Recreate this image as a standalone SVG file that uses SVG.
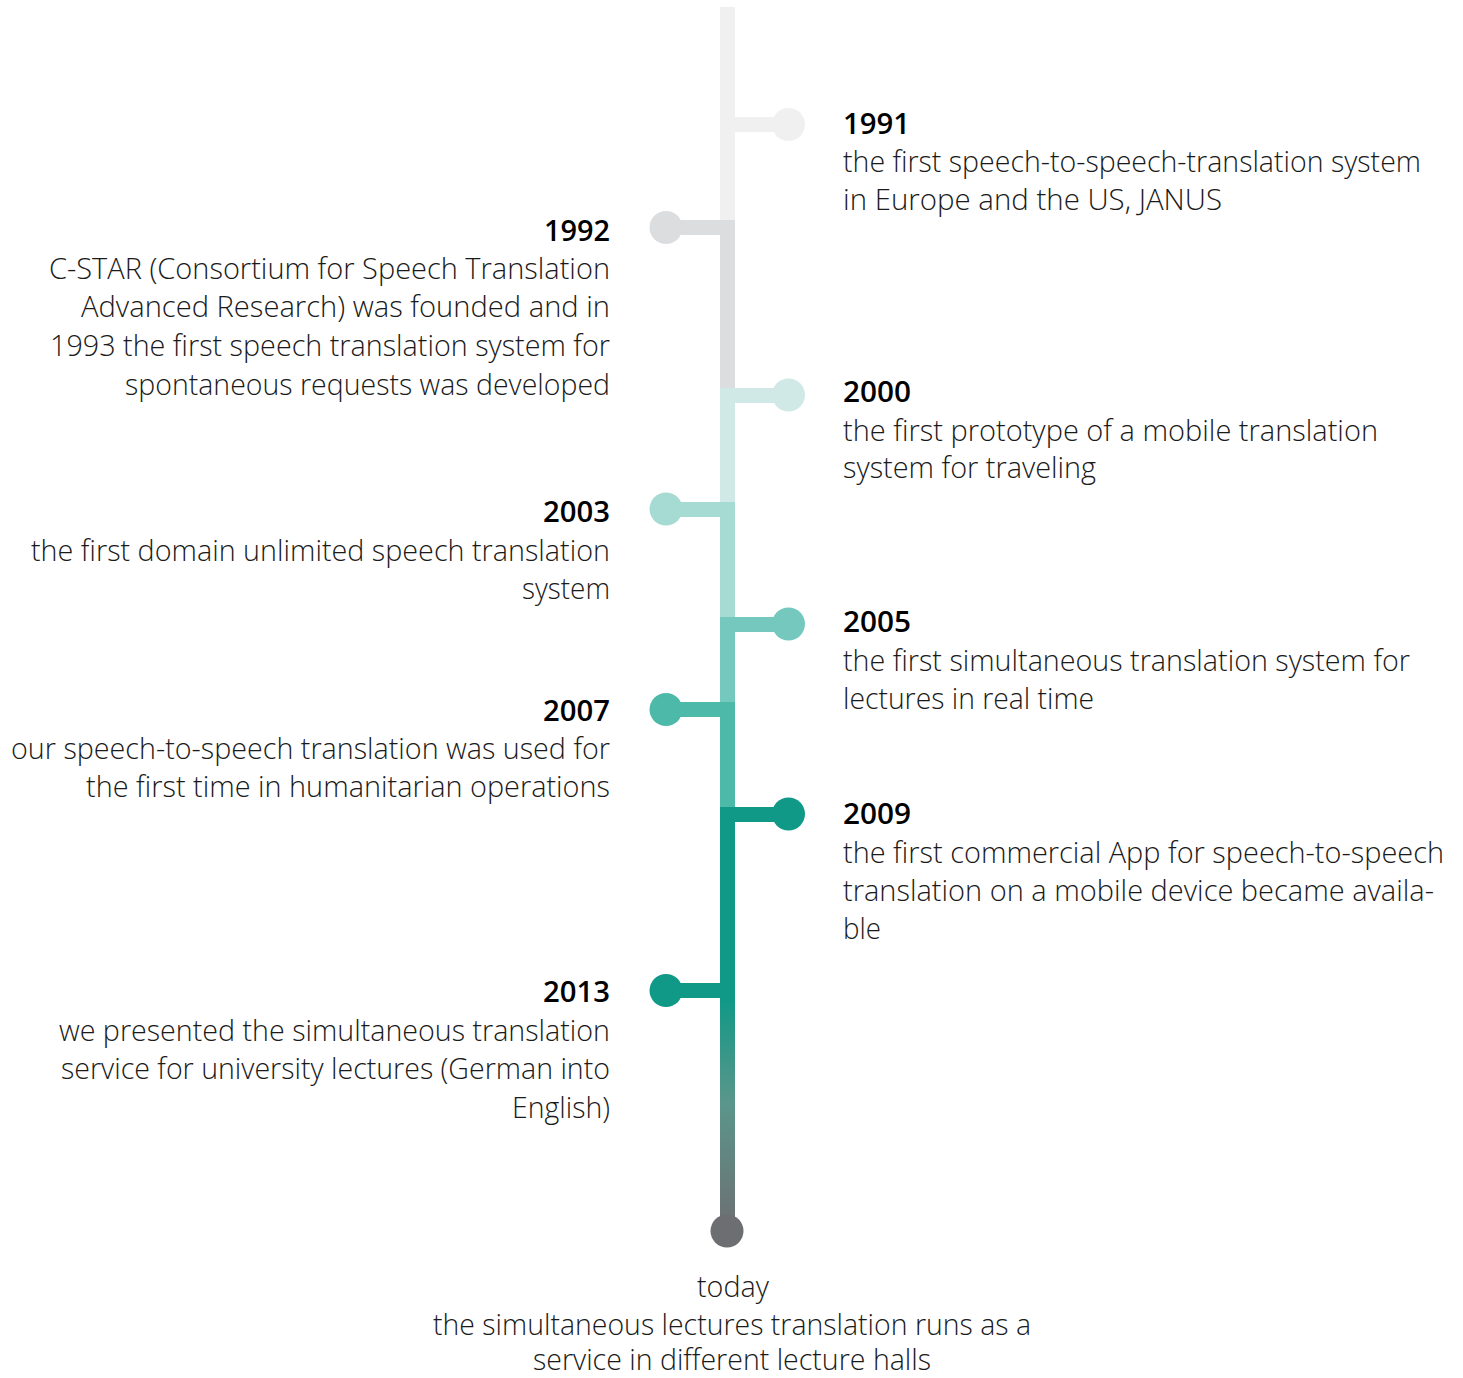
<svg xmlns="http://www.w3.org/2000/svg" width="1463" height="1378" viewBox="0 0 1463 1378">
<defs>
<linearGradient id="tail" x1="0" y1="998" x2="0" y2="1231" gradientUnits="userSpaceOnUse">
<stop offset="0" stop-color="#0f9986"/>
<stop offset="0.45" stop-color="#5b968b"/>
<stop offset="1" stop-color="#6d6e72"/>
</linearGradient>
<style>
text{font-family:"Open Sans","Noto Sans","Liberation Sans",sans-serif;font-size:28.5px;fill:#1a1a1a;font-weight:300}
.yr{font-weight:600;fill:#000}
.r{text-anchor:start}
.l{text-anchor:end}
.c{text-anchor:middle}
</style>
</defs>
<rect width="1463" height="1378" fill="#fff"/>
<g id="connectors">
<rect x="720" y="7" width="15" height="213" fill="#f0f0f0"/>
<rect x="720" y="220" width="15" height="168" fill="#dcdddf"/>
<rect x="720" y="388" width="15" height="114" fill="#d0e9e6"/>
<rect x="720" y="502" width="15" height="115" fill="#a6dbd3"/>
<rect x="720" y="617" width="15" height="85" fill="#74c8be"/>
<rect x="720" y="702" width="15" height="105" fill="#4dbaa9"/>
<rect x="720" y="807" width="15" height="191" fill="#0f9986"/>
<rect x="720" y="998" width="15" height="233" fill="url(#tail)"/>
</g>
<g id="n1991">
<rect x="720" y="117" width="68" height="15" fill="#f0f0f0"/>
<circle cx="788.5" cy="124.5" r="16.5" fill="#f0f0f0"/>
<text class="r yr" x="843" y="134" textLength="67" lengthAdjust="spacingAndGlyphs">1991</text>
<text class="r" x="843" y="172" textLength="578" lengthAdjust="spacingAndGlyphs">the first speech-to-speech-translation system</text>
<text class="r" x="843" y="210" textLength="379" lengthAdjust="spacingAndGlyphs">in Europe and the US, JANUS</text>
</g>
<g id="n1992">
<rect x="666" y="220" width="69" height="15" fill="#dcdddf"/>
<circle cx="666" cy="227.5" r="16.5" fill="#dcdddf"/>
<text class="l yr" x="610" y="241" textLength="66" lengthAdjust="spacingAndGlyphs">1992</text>
<text class="l" x="610" y="279" textLength="561" lengthAdjust="spacingAndGlyphs">C-STAR (Consortium for Speech Translation</text>
<text class="l" x="610" y="317" textLength="529" lengthAdjust="spacingAndGlyphs">Advanced Research) was founded and in</text>
<text class="l" x="610" y="356" textLength="560" lengthAdjust="spacingAndGlyphs">1993 the first speech translation system for</text>
<text class="l" x="610" y="395" textLength="485" lengthAdjust="spacingAndGlyphs">spontaneous requests was developed</text>
</g>
<g id="n2000">
<rect x="720" y="388" width="68" height="15" fill="#d0e9e6"/>
<circle cx="788.5" cy="395" r="16.5" fill="#d0e9e6"/>
<text class="r yr" x="843" y="402" textLength="68" lengthAdjust="spacingAndGlyphs">2000</text>
<text class="r" x="843" y="441" textLength="535" lengthAdjust="spacingAndGlyphs">the first prototype of a mobile translation</text>
<text class="r" x="843" y="478" textLength="253" lengthAdjust="spacingAndGlyphs">system for traveling</text>
</g>
<g id="n2003">
<rect x="666" y="502" width="69" height="15" fill="#a6dbd3"/>
<circle cx="666" cy="509" r="16.5" fill="#a6dbd3"/>
<text class="l yr" x="610" y="522" textLength="67" lengthAdjust="spacingAndGlyphs">2003</text>
<text class="l" x="610" y="561" textLength="579" lengthAdjust="spacingAndGlyphs">the first domain unlimited speech translation</text>
<text class="l" x="610" y="599" textLength="88" lengthAdjust="spacingAndGlyphs">system</text>
</g>
<g id="n2005">
<rect x="720" y="617" width="68" height="15" fill="#74c8be"/>
<circle cx="788.5" cy="624" r="16.5" fill="#74c8be"/>
<text class="r yr" x="843" y="632" textLength="68" lengthAdjust="spacingAndGlyphs">2005</text>
<text class="r" x="843" y="671" textLength="567" lengthAdjust="spacingAndGlyphs">the first simultaneous translation system for</text>
<text class="r" x="843" y="709" textLength="251" lengthAdjust="spacingAndGlyphs">lectures in real time</text>
</g>
<g id="n2007">
<rect x="666" y="702" width="69" height="15" fill="#4dbaa9"/>
<circle cx="666" cy="709.5" r="16.5" fill="#4dbaa9"/>
<text class="l yr" x="610" y="721" textLength="67" lengthAdjust="spacingAndGlyphs">2007</text>
<text class="l" x="610" y="759" textLength="599" lengthAdjust="spacingAndGlyphs">our speech-to-speech translation was used for</text>
<text class="l" x="610" y="797" textLength="524" lengthAdjust="spacingAndGlyphs">the first time in humanitarian operations</text>
</g>
<g id="n2009">
<rect x="720" y="807" width="68" height="15" fill="#0f9986"/>
<circle cx="788.5" cy="814" r="16.5" fill="#0f9986"/>
<text class="r yr" x="843" y="824" textLength="68" lengthAdjust="spacingAndGlyphs">2009</text>
<text class="r" x="843" y="863" textLength="601" lengthAdjust="spacingAndGlyphs">the first commercial App for speech-to-speech</text>
<text class="r" x="843" y="901" textLength="591" lengthAdjust="spacingAndGlyphs">translation on a mobile device became availa-</text>
<text class="r" x="843" y="939" textLength="38" lengthAdjust="spacingAndGlyphs">ble</text>
</g>
<g id="n2013">
<rect x="666" y="983" width="69" height="15" fill="#0f9986"/>
<circle cx="666" cy="990.5" r="16.5" fill="#0f9986"/>
<text class="l yr" x="610" y="1002" textLength="67" lengthAdjust="spacingAndGlyphs">2013</text>
<text class="l" x="610" y="1041" textLength="551" lengthAdjust="spacingAndGlyphs">we presented the simultaneous translation</text>
<text class="l" x="610" y="1079" textLength="549" lengthAdjust="spacingAndGlyphs">service for university lectures (German into</text>
<text class="l" x="610" y="1118" textLength="98" lengthAdjust="spacingAndGlyphs">English)</text>
</g>
<g id="today">
<circle cx="727" cy="1231" r="16.5" fill="#6d6e72"/>
<text class="c" x="733" y="1297" textLength="72" lengthAdjust="spacingAndGlyphs">today</text>
<text class="c" x="732" y="1335" textLength="598" lengthAdjust="spacingAndGlyphs">the simultaneous lectures translation runs as a</text>
<text class="c" x="732" y="1370" textLength="398" lengthAdjust="spacingAndGlyphs">service in different lecture halls</text>
</g>
</svg>
